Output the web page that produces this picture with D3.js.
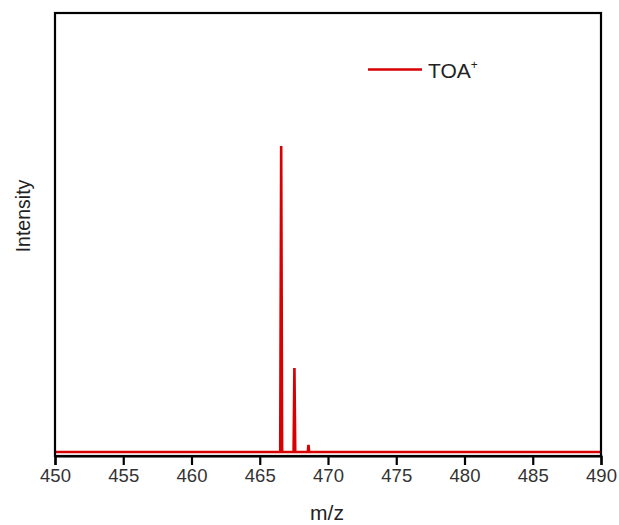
<!DOCTYPE html>
<html>
<head>
<meta charset="utf-8">
<script src="https://cdn.jsdelivr.net/npm/d3@7"></script>
<style>
  html, body { margin: 0; padding: 0; background: #fff; }
  svg { display: block; font-family: "Liberation Sans", Arial, sans-serif; }
</style>
</head>
<body>
<svg id="chart" width="619" height="525"></svg>
<script>
// Mass spectrum of the TOA+ cation (m/z vs. relative intensity)
const mz =        [450, 466.50, 466.57, 466.64, 467.48, 467.54, 467.60, 468.52, 468.57, 468.62, 490];
const intensity = [0,   0,      100,    0,      0,      27.5,   0,      0,      2.3,    0,      0];
const xTicks = [450, 455, 460, 465, 470, 475, 480, 485, 490];
const seriesName = "TOA";
const xTitle = "m/z";
const yTitle = "Intensity";

const svg = d3.select("#chart");
const m = { left: 55, right: 601, top: 13, bottom: 456 };

const x = d3.scaleLinear().domain([450, 490]).range([m.left, m.right]);
const y = d3.scaleLinear().domain([-1.3, 143.5]).range([m.bottom, m.top]);

const data = mz.map((v, i) => ({ mz: v, i: intensity[i] }));

// spectrum trace
svg.append("path")
  .datum(data)
  .attr("fill", "none")
  .attr("stroke", "#d80000")
  .attr("stroke-width", 2.6)
  .attr("stroke-linejoin", "miter")
  .attr("d", d3.line().x(d => x(d.mz)).y(d => y(d.i)));

// frame
svg.append("rect")
  .attr("x", m.left).attr("y", m.top)
  .attr("width", m.right - m.left).attr("height", m.bottom - m.top)
  .attr("fill", "none").attr("stroke", "#000").attr("stroke-width", 2.2);

// bottom axis
const xAxis = svg.append("g")
  .attr("transform", `translate(0,${m.bottom})`)
  .call(d3.axisBottom(x).tickValues(xTicks).tickSize(9).tickPadding(4).tickFormat(d3.format("d")));
xAxis.select(".domain").attr("stroke", "#000").attr("stroke-width", 2.2);
xAxis.selectAll(".tick line").attr("stroke", "#000").attr("stroke-width", 2.2);
xAxis.selectAll(".tick text")
  .attr("fill", "#333").attr("font-size", 18.5)
  .attr("font-family", "'Liberation Sans', Arial, sans-serif");

// axis titles
svg.append("text")
  .attr("x", 327).attr("y", 520)
  .attr("text-anchor", "middle").attr("fill", "#222")
  .attr("font-size", 21).text(xTitle);

svg.append("text")
  .attr("transform", `translate(30,216) rotate(-90)`)
  .attr("text-anchor", "middle").attr("fill", "#222")
  .attr("font-size", 19.5).text(yTitle);

// legend
const lg = svg.append("g").attr("transform", "translate(368,69.5)");
lg.append("line").attr("x1", 0).attr("x2", 54).attr("y1", 0).attr("y2", 0)
  .attr("stroke", "#d80000").attr("stroke-width", 2.6);
const lt = lg.append("text").attr("x", 60).attr("y", 8.5)
  .attr("fill", "#222").attr("font-size", 21);
lt.append("tspan").text(seriesName);
lt.append("tspan").attr("dy", -9).attr("font-size", 12).text("+");
</script>
</body>
</html>
